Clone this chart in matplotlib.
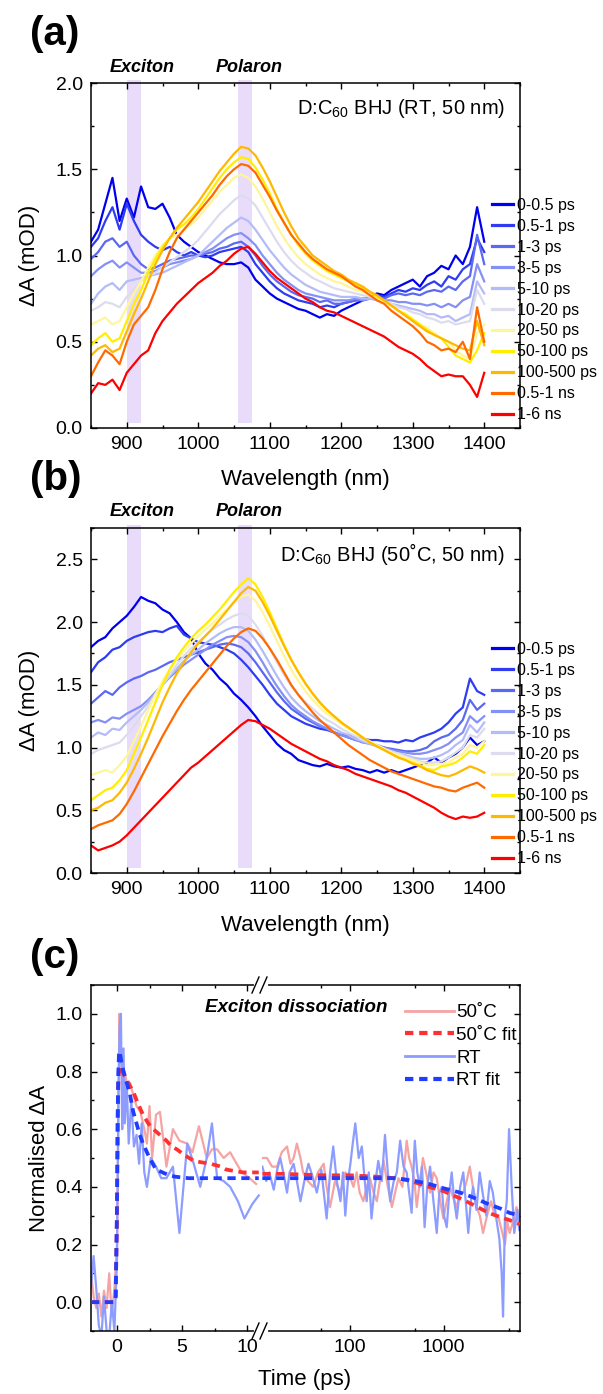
import matplotlib
matplotlib.use('Agg')
import matplotlib.pyplot as plt
import numpy as np
from matplotlib.ticker import MultipleLocator, FixedLocator, FixedFormatter, NullFormatter
from matplotlib.lines import Line2D

plt.rcParams['font.family'] = ['Liberation Sans', 'DejaVu Sans']
plt.rcParams['mathtext.fontset'] = 'custom'
plt.rcParams['mathtext.rm'] = 'Liberation Sans'
plt.rcParams['mathtext.it'] = 'Liberation Sans:italic'
plt.rcParams['mathtext.bf'] = 'Liberation Sans:bold'

# ---------------- data ----------------
wavelength = list(range(850, 1401, 10))

labels = ['0-0.5 ps', '0.5-1 ps', '1-3 ps', '3-5 ps', '5-10 ps', '10-20 ps',
          '20-50 ps', '50-100 ps', '100-500 ps', '0.5-1 ns', '1-6 ns']
colors = ['#0000F0', '#2E3CF2', '#5A68F2', '#8490F5', '#B4BCF8', '#DCDCEE',
          '#FFF59A', '#FFEE00', '#FFB800', '#FF6A00', '#FF0000']

rt_0 = [1.08,1.15,1.3,1.45,1.2,1.33,1.22,1.4,1.28,1.27,1.3,1.22,1.12,1.08,1.05,1.02,1.0,0.98,0.96,0.95,0.95,0.96,0.93,0.86,0.82,0.78,0.75,0.73,0.71,0.69,0.68,0.66,0.64,0.66,0.65,0.68,0.7,0.72,0.74,0.76,0.78,0.77,0.8,0.82,0.84,0.86,0.82,0.88,0.9,0.94,0.92,1.0,0.95,1.05,1.28,1.08]
rt_1 = [1.05,1.1,1.2,1.28,1.15,1.3,1.2,1.12,1.08,1.05,1.03,1.05,1.02,1.0,1.02,1.0,0.99,1.0,1.02,1.03,1.04,1.05,1.02,0.95,0.9,0.85,0.81,0.78,0.76,0.74,0.73,0.72,0.7,0.71,0.7,0.72,0.73,0.74,0.75,0.75,0.77,0.76,0.78,0.8,0.79,0.81,0.8,0.83,0.85,0.82,0.88,0.86,0.92,0.95,1.1,1.02]
rt_2 = [0.98,1.02,1.08,1.1,1.05,1.08,1.0,0.95,0.92,0.93,0.95,0.97,0.98,0.99,1.0,1.0,1.01,1.02,1.04,1.05,1.07,1.08,1.05,1.0,0.94,0.89,0.85,0.82,0.79,0.77,0.76,0.75,0.73,0.74,0.72,0.72,0.73,0.74,0.74,0.75,0.76,0.75,0.77,0.78,0.77,0.78,0.77,0.79,0.8,0.79,0.82,0.8,0.85,0.88,1.12,0.95]
rt_3 = [0.88,0.92,0.95,0.97,0.93,0.96,0.93,0.9,0.9,0.91,0.93,0.95,0.96,0.97,0.98,1.0,1.02,1.04,1.07,1.1,1.12,1.13,1.1,1.06,1.0,0.95,0.9,0.86,0.83,0.8,0.78,0.77,0.76,0.75,0.74,0.74,0.74,0.75,0.74,0.75,0.75,0.74,0.74,0.73,0.73,0.72,0.72,0.71,0.72,0.7,0.72,0.7,0.74,0.76,0.95,0.85]
rt_4 = [0.72,0.78,0.82,0.84,0.8,0.85,0.86,0.87,0.88,0.89,0.9,0.92,0.94,0.96,0.98,1.0,1.04,1.08,1.12,1.16,1.19,1.22,1.2,1.15,1.09,1.03,0.98,0.93,0.89,0.86,0.83,0.81,0.79,0.78,0.77,0.76,0.76,0.76,0.75,0.75,0.74,0.73,0.72,0.71,0.7,0.69,0.68,0.66,0.66,0.64,0.65,0.62,0.64,0.66,0.85,0.78]
rt_5 = [0.68,0.7,0.73,0.72,0.7,0.76,0.8,0.85,0.88,0.9,0.93,0.96,0.99,1.02,1.05,1.09,1.14,1.19,1.24,1.28,1.32,1.35,1.33,1.29,1.22,1.15,1.08,1.02,0.97,0.93,0.9,0.87,0.85,0.83,0.81,0.8,0.79,0.78,0.77,0.76,0.75,0.73,0.72,0.7,0.69,0.67,0.66,0.64,0.63,0.61,0.62,0.6,0.61,0.62,0.8,0.72]
rt_6 = [0.6,0.62,0.64,0.6,0.62,0.7,0.78,0.85,0.93,1.0,1.06,1.1,1.12,1.15,1.18,1.22,1.27,1.32,1.37,1.41,1.45,1.47,1.45,1.4,1.33,1.25,1.17,1.1,1.04,0.99,0.95,0.92,0.89,0.87,0.85,0.84,0.82,0.8,0.79,0.77,0.75,0.73,0.71,0.68,0.66,0.63,0.6,0.58,0.55,0.52,0.5,0.45,0.42,0.4,0.55,0.6]
rt_7 = [0.48,0.52,0.55,0.5,0.52,0.62,0.72,0.8,0.9,0.98,1.05,1.1,1.15,1.18,1.22,1.27,1.33,1.39,1.45,1.5,1.54,1.57,1.56,1.51,1.44,1.36,1.27,1.19,1.12,1.06,1.01,0.97,0.94,0.91,0.89,0.87,0.85,0.83,0.81,0.79,0.76,0.74,0.71,0.68,0.66,0.63,0.6,0.57,0.54,0.52,0.47,0.42,0.4,0.38,0.45,0.55]
rt_8 = [0.42,0.46,0.48,0.44,0.46,0.56,0.66,0.75,0.85,0.95,1.03,1.1,1.16,1.21,1.26,1.31,1.37,1.43,1.49,1.54,1.59,1.63,1.62,1.58,1.51,1.43,1.34,1.25,1.17,1.1,1.05,1.0,0.97,0.94,0.91,0.89,0.86,0.84,0.82,0.79,0.77,0.74,0.71,0.68,0.65,0.62,0.59,0.56,0.54,0.52,0.5,0.48,0.46,0.45,0.62,0.48]
rt_9 = [0.3,0.38,0.45,0.42,0.37,0.5,0.6,0.65,0.7,0.8,0.92,1.02,1.1,1.15,1.2,1.25,1.3,1.35,1.41,1.46,1.5,1.53,1.52,1.48,1.41,1.34,1.26,1.19,1.12,1.07,1.02,0.98,0.95,0.92,0.9,0.88,0.85,0.82,0.8,0.77,0.74,0.72,0.68,0.65,0.62,0.59,0.55,0.5,0.48,0.45,0.46,0.44,0.5,0.4,0.7,0.5]
rt_10 = [0.2,0.26,0.25,0.28,0.22,0.32,0.37,0.42,0.45,0.55,0.62,0.67,0.72,0.76,0.8,0.84,0.87,0.9,0.94,0.97,1.01,1.04,1.05,1.01,0.96,0.91,0.87,0.84,0.81,0.78,0.75,0.73,0.7,0.68,0.67,0.65,0.63,0.61,0.59,0.57,0.55,0.53,0.5,0.47,0.45,0.43,0.4,0.36,0.33,0.3,0.31,0.3,0.3,0.25,0.18,0.32]

ht_0 = [1.8,1.85,1.88,1.95,2.0,2.05,2.12,2.2,2.17,2.15,2.1,2.07,2.0,1.92,1.87,1.75,1.67,1.62,1.55,1.5,1.43,1.38,1.32,1.25,1.17,1.1,1.03,0.98,0.95,0.9,0.88,0.86,0.85,0.87,0.85,0.84,0.85,0.83,0.82,0.8,0.82,0.8,0.82,0.8,0.82,0.84,0.86,0.88,0.92,0.88,0.92,0.95,1.0,1.08,1.02,1.05]
ht_1 = [1.6,1.68,1.72,1.78,1.8,1.85,1.88,1.9,1.92,1.93,1.92,1.95,1.97,1.9,1.87,1.84,1.83,1.82,1.8,1.78,1.75,1.7,1.64,1.57,1.5,1.42,1.35,1.3,1.25,1.22,1.19,1.17,1.15,1.14,1.12,1.1,1.1,1.08,1.07,1.06,1.06,1.05,1.05,1.04,1.06,1.05,1.08,1.1,1.12,1.15,1.2,1.27,1.32,1.55,1.45,1.42]
ht_2 = [1.35,1.4,1.45,1.42,1.48,1.52,1.55,1.57,1.6,1.62,1.65,1.68,1.7,1.72,1.74,1.76,1.78,1.8,1.82,1.83,1.82,1.8,1.75,1.68,1.6,1.52,1.44,1.37,1.31,1.27,1.23,1.2,1.17,1.15,1.12,1.1,1.08,1.06,1.05,1.03,1.02,1.0,0.99,0.98,0.97,0.97,0.98,1.0,1.05,1.08,1.1,1.15,1.22,1.38,1.3,1.35]
ht_3 = [1.2,1.22,1.2,1.24,1.23,1.27,1.3,1.33,1.38,1.44,1.5,1.56,1.61,1.66,1.7,1.74,1.78,1.82,1.85,1.88,1.89,1.88,1.84,1.77,1.68,1.58,1.49,1.41,1.34,1.29,1.25,1.21,1.18,1.15,1.12,1.1,1.08,1.06,1.04,1.03,1.01,1.0,0.98,0.97,0.96,0.95,0.95,0.96,0.98,1.0,1.03,1.08,1.12,1.25,1.2,1.25]
ht_4 = [1.08,1.12,1.1,1.15,1.14,1.2,1.25,1.3,1.36,1.43,1.5,1.57,1.63,1.69,1.74,1.78,1.83,1.87,1.91,1.94,1.96,1.96,1.93,1.86,1.77,1.67,1.57,1.48,1.4,1.34,1.29,1.25,1.21,1.18,1.15,1.12,1.1,1.07,1.05,1.03,1.01,0.99,0.97,0.95,0.94,0.92,0.91,0.91,0.92,0.94,0.97,1.02,1.06,1.18,1.12,1.2]
ht_5 = [0.95,0.98,1.0,1.02,1.04,1.1,1.17,1.25,1.33,1.42,1.5,1.58,1.66,1.73,1.79,1.84,1.89,1.94,1.98,2.02,2.05,2.07,2.05,1.98,1.89,1.79,1.68,1.58,1.49,1.42,1.36,1.31,1.26,1.22,1.19,1.15,1.12,1.09,1.06,1.04,1.02,0.99,0.97,0.95,0.93,0.91,0.89,0.88,0.88,0.89,0.92,0.96,1.0,1.1,1.08,1.15]
ht_6 = [0.78,0.8,0.82,0.8,0.86,0.93,1.05,1.17,1.3,1.42,1.53,1.62,1.7,1.77,1.83,1.89,1.94,1.99,2.05,2.1,2.16,2.2,2.22,2.17,2.08,1.97,1.85,1.73,1.62,1.53,1.45,1.38,1.32,1.27,1.23,1.19,1.15,1.12,1.08,1.05,1.02,0.99,0.96,0.94,0.92,0.9,0.88,0.86,0.86,0.87,0.88,0.92,0.95,1.02,1.0,1.05]
ht_7 = [0.58,0.62,0.66,0.68,0.74,0.82,0.95,1.08,1.22,1.36,1.5,1.62,1.72,1.8,1.87,1.93,1.98,2.04,2.1,2.17,2.24,2.3,2.35,2.3,2.2,2.08,1.95,1.82,1.7,1.6,1.51,1.43,1.36,1.3,1.25,1.2,1.16,1.12,1.08,1.04,1.01,0.98,0.95,0.92,0.9,0.88,0.86,0.83,0.82,0.85,0.86,0.88,0.92,0.97,0.95,1.02]
ht_8 = [0.5,0.52,0.56,0.58,0.64,0.72,0.83,0.95,1.08,1.22,1.36,1.48,1.59,1.68,1.76,1.83,1.89,1.95,2.02,2.09,2.16,2.23,2.28,2.25,2.16,2.05,1.93,1.81,1.7,1.6,1.51,1.43,1.36,1.3,1.25,1.2,1.16,1.12,1.08,1.04,1.01,0.98,0.95,0.92,0.9,0.87,0.85,0.82,0.8,0.78,0.77,0.79,0.82,0.85,0.83,0.8]
ht_9 = [0.35,0.38,0.4,0.42,0.47,0.55,0.65,0.76,0.87,0.98,1.09,1.19,1.29,1.38,1.46,1.53,1.6,1.67,1.74,1.81,1.87,1.92,1.95,1.93,1.87,1.79,1.7,1.6,1.5,1.42,1.35,1.28,1.22,1.17,1.12,1.07,1.02,0.98,0.94,0.9,0.87,0.84,0.81,0.79,0.77,0.75,0.73,0.71,0.69,0.68,0.66,0.65,0.68,0.7,0.72,0.68]
ht_10 = [0.22,0.18,0.2,0.22,0.25,0.3,0.36,0.42,0.48,0.54,0.6,0.66,0.72,0.78,0.84,0.88,0.93,0.98,1.03,1.08,1.13,1.18,1.22,1.21,1.18,1.15,1.11,1.07,1.03,1.0,0.97,0.94,0.91,0.89,0.86,0.84,0.82,0.79,0.77,0.75,0.73,0.71,0.69,0.66,0.64,0.61,0.58,0.55,0.52,0.48,0.45,0.43,0.45,0.44,0.45,0.48]

rt_spectra = [rt_0, rt_1, rt_2, rt_3, rt_4, rt_5, rt_6, rt_7, rt_8, rt_9, rt_10]
ht_spectra = [ht_0, ht_1, ht_2, ht_3, ht_4, ht_5, ht_6, ht_7, ht_8, ht_9, ht_10]

# panel (c) kinetics
t_50 = [-2.0,-1.8,-1.6,-1.4,-1.2,-1.0,-0.8,-0.6,-0.4,-0.2,0.0,0.1,0.18,0.3,0.45,0.6,0.8,1.0,1.25,1.5,1.8,2.1,2.3,2.5,2.7,3.0,3.3,3.6,3.8,4.3,4.8,5.4,5.8,6.3,6.9,7.3,7.7,8.2,8.7,9.2,9.6,10.2,10.7,
        11.8,13.2,15,16.9,19,21.6,23.5,25.4,27.5,30,32,36,41,46,53,57,62,70,80,90,102,110,119,128,140,152,165,180,195,210,230,255,282,305,331,365,405,430,457,490,518,560,603,650,718,780,846,920,995,1080,1170,1270,1380,1500,1620,1760,1900,2050,2240,2430,2630,2900,3200,3500,3800,4150,4500,4750,5050,5500,5960,6400]
a_50 = [0.1,0.02,-0.02,0.03,-0.05,0.04,-0.02,0.1,-0.05,0.05,0.2,0.6,1.0,0.85,0.78,0.8,0.74,0.76,0.72,0.68,0.66,0.6,0.55,0.68,0.5,0.65,0.66,0.55,0.47,0.6,0.56,0.55,0.52,0.61,0.5,0.53,0.53,0.5,0.52,0.48,0.45,0.43,0.41,
        0.5,0.5,0.47,0.47,0.52,0.54,0.48,0.5,0.55,0.5,0.45,0.42,0.4,0.45,0.48,0.4,0.33,0.42,0.38,0.45,0.43,0.4,0.45,0.38,0.35,0.4,0.43,0.38,0.35,0.42,0.49,0.4,0.33,0.38,0.43,0.4,0.56,0.5,0.47,0.42,0.33,0.42,0.5,0.45,0.38,0.45,0.43,0.35,0.29,0.35,0.4,0.36,0.33,0.38,0.38,0.42,0.47,0.4,0.33,0.3,0.24,0.3,0.35,0.3,0.3,0.25,0.2,0.28,0.24,0.28,0.33,0.3]

t_rt = [-2.0,-1.8,-1.6,-1.4,-1.2,-1.0,-0.8,-0.6,-0.4,-0.2,0.0,0.1,0.2,0.3,0.4,0.5,0.6,0.75,0.9,1.1,1.3,1.5,1.7,1.9,2.1,2.3,2.6,3.0,3.4,3.8,4.3,4.8,5.4,5.9,6.4,6.9,7.3,7.7,8.2,8.7,9.3,9.8,10.4,10.9,
        11.8,13,14,15.6,17,18.3,20,21.6,23,25.4,27.5,30,33,36.5,40,44.8,50,57,62,67,73,80,85,90,96,102,108,115,125,135,145,152,160,171,185,202,220,238,255,270,295,318,345,375,405,430,457,494,525,557,590,628,670,718,780,846,900,956,1010,1080,1150,1220,1300,1380,1500,1620,1720,1830,1950,2060,2240,2420,2600,2850,3100,3340,3600,3920,4150,4290,4500,4700,4970,5300,5650,6100,6400]
a_rt = [0.05,0.16,0.05,-0.08,-0.12,0.02,-0.1,-0.12,0.0,-0.1,0.15,0.7,0.95,1.0,0.6,0.88,0.62,0.76,0.55,0.7,0.54,0.58,0.48,0.62,0.45,0.4,0.5,0.47,0.43,0.43,0.47,0.24,0.55,0.48,0.4,0.5,0.62,0.43,0.42,0.4,0.35,0.29,0.34,0.37,
        0.47,0.42,0.45,0.39,0.46,0.5,0.44,0.38,0.45,0.48,0.42,0.35,0.42,0.48,0.44,0.38,0.46,0.29,0.45,0.54,0.42,0.35,0.45,0.3,0.42,0.48,0.55,0.62,0.5,0.54,0.42,0.35,0.45,0.29,0.4,0.49,0.42,0.58,0.45,0.35,0.42,0.45,0.56,0.47,0.45,0.38,0.31,0.56,0.45,0.4,0.47,0.26,0.4,0.47,0.35,0.24,0.38,0.4,0.3,0.26,0.38,0.45,0.35,0.29,0.4,0.45,0.35,0.24,0.35,0.4,0.32,0.45,0.38,0.3,0.42,0.38,0.3,0.22,0.1,-0.05,0.3,0.35,0.6,0.4,0.24,0.32,0.25]

t_fit50 = [-2.0,-0.2,-0.1,0.0,0.05,0.1,0.15,0.2,0.4,0.75,1.0,1.25,1.6,2.0,2.4,2.8,3.3,3.8,4.2,4.6,5.2,5.9,6.5,7.2,8.0,8.4,9.0,9.7,10.3,10.9,
           11.8,20,50,100,200,300,400,500,700,1000,1500,2000,3000,4000,5000,6500]
a_fit50 = [0.0,0.0,0.02,0.3,0.6,0.75,0.81,0.82,0.8,0.77,0.75,0.73,0.69,0.65,0.62,0.6,0.58,0.56,0.54,0.53,0.51,0.49,0.485,0.48,0.47,0.46,0.455,0.45,0.45,0.45,
           0.445,0.445,0.44,0.44,0.435,0.43,0.425,0.415,0.4,0.385,0.36,0.34,0.31,0.295,0.285,0.27]
t_fitrt = [-2.0,-0.2,-0.1,0.0,0.05,0.1,0.15,0.2,0.35,0.5,0.75,1.0,1.25,1.5,1.75,2.0,2.5,3.0,3.5,4.0,4.5,5.5,7.0,9.0,10.9,
           11.8,50,100,300,500,700,1000,1500,2000,3000,4000,5000,6500]
a_fitrt = [0.0,0.0,0.02,0.35,0.65,0.8,0.86,0.87,0.83,0.8,0.76,0.72,0.66,0.62,0.58,0.55,0.5,0.46,0.45,0.44,0.435,0.43,0.43,0.43,0.43,
           0.43,0.43,0.43,0.43,0.42,0.41,0.395,0.38,0.365,0.34,0.325,0.31,0.30]

# ---------------- layout helpers ----------------
W, H = 603, 1394
fig = plt.figure(figsize=(W / 100, H / 100), dpi=100)


def box(l, t, r, b):
    return [l / W, 1 - b / H, (r - l) / W, (b - t) / H]


def fx(px):
    return px / W


def fy(py):
    return 1 - py / H


TICK_FS = 14
LABEL_FS = 16
BAND = '#E9DCFB'


def style(ax):
    for s in ax.spines.values():
        s.set_linewidth(1.1)
    ax.tick_params(which='both', direction='in', top=True, right=True,
                   labelsize=TICK_FS, width=1.0)
    ax.tick_params(which='major', length=4.0, pad=6)
    ax.tick_params(which='minor', length=2.3)


def spectra_panel(top, bottom, data, ylim, ymaj, note, legend_top, title_y):
    ax = fig.add_axes(box(91, top, 520, bottom))
    ax.axvspan(900, 920, ymin=0.015, ymax=1.01, color=BAND, lw=0, zorder=0, clip_on=False)
    ax.axvspan(1055, 1075, ymin=0.015, ymax=1.01, color=BAND, lw=0, zorder=0, clip_on=False)
    handles = []
    for y, c, lab in zip(data, colors, labels):
        h, = ax.plot(wavelength, y, color=c, lw=1.6, label=lab, zorder=2)
        handles.append(h)
    ax.set_xlim(850, 1450)
    ax.set_ylim(*ylim)
    ax.xaxis.set_major_locator(FixedLocator([900, 1000, 1100, 1200, 1300, 1400]))
    ax.xaxis.set_minor_locator(MultipleLocator(50))
    ax.yaxis.set_major_locator(MultipleLocator(ymaj))
    ax.yaxis.set_minor_locator(MultipleLocator(ymaj / 2))
    ax.yaxis.set_major_formatter(matplotlib.ticker.FormatStrFormatter('%.1f'))
    style(ax)
    ax.set_ylabel('ΔA (mOD)', fontsize=LABEL_FS)
    ax.yaxis.set_label_coords(-0.118, 0.5)
    fig.text(fx(305), fy(title_y), 'Wavelength (nm)', fontsize=LABEL_FS, ha='center', va='center')
    fig.text(fx(505), fy(top + 26), note, fontsize=14.5, ha='right', va='center')
    fig.text(fx(142), fy(top - 16), 'Exciton', fontsize=13, weight='bold', style='italic',
             ha='center', va='center')
    fig.text(fx(249), fy(top - 16), 'Polaron', fontsize=13, weight='bold', style='italic',
             ha='center', va='center')
    leg = fig.legend(handles, labels, loc='upper left', bbox_to_anchor=(fx(492), fy(legend_top)),
                     bbox_transform=fig.transFigure, frameon=False, borderpad=0, borderaxespad=0,
                     handlelength=1.3, handletextpad=0.25, labelspacing=0.37, fontsize=11.5)
    for lh in leg.get_lines():
        lh.set_linewidth(2.3)
    return ax


ax_a = spectra_panel(83, 428, rt_spectra, (0, 2.0), 0.5, 'D:C$_{60}$ BHJ (RT, 50 nm)', 198, 480)
ax_b = spectra_panel(528, 873, ht_spectra, (0, 2.75), 0.5, 'D:C$_{60}$ BHJ (50˚C, 50 nm)', 642, 925)

for txt, yb in [('(a)', 53), ('(b)', 498), ('(c)', 976)]:
    fig.text(fx(30), fy(yb), txt, fontsize=29, weight='bold', ha='left', va='bottom')

# ---------------- panel (c) ----------------
BREAK = 262
ax_l = fig.add_axes(box(91, 985, BREAK, 1331))
ax_r = fig.add_axes(box(BREAK, 985, 520, 1331))
LIN_MAX, LOG_MIN, LOG_MAX = 11.15, 11.7, 6500

c50, c50f, crt, crtf = '#F5A3A3', '#FF3030', '#8C9CFF', '#1F3CFF'

t50 = np.array(t_50); v50 = np.array(a_50)
trt = np.array(t_rt); vrt = np.array(a_rt)
tf50 = np.array(t_fit50); vf50 = np.array(a_fit50)
tfrt = np.array(t_fitrt); vfrt = np.array(a_fitrt)

for ax, m50, mrt, mf50, mfrt in [
        (ax_l, t50 <= LIN_MAX, trt <= LIN_MAX, tf50 <= LIN_MAX, tfrt <= LIN_MAX),
        (ax_r, t50 >= LOG_MIN, trt >= LOG_MIN, tf50 >= LOG_MIN, tfrt >= LOG_MIN)]:
    ax.plot(t50[m50], v50[m50], color=c50, lw=1.6, zorder=2)
    ax.plot(trt[mrt], vrt[mrt], color=crt, lw=1.6, zorder=2)
    ax.plot(tf50[mf50], vf50[mf50], color=c50f, lw=2.7, dashes=(2.2, 1.5), zorder=3)
    ax.plot(tfrt[mfrt], vfrt[mfrt], color=crtf, lw=2.7, dashes=(2.2, 1.5), zorder=3)

ax_l.set_xlim(-2, LIN_MAX)
ax_r.set_xscale('log')
ax_r.set_xlim(LOG_MIN, LOG_MAX)
for ax in (ax_l, ax_r):
    ax.set_ylim(-0.1, 1.1)
    ax.yaxis.set_major_locator(MultipleLocator(0.2))
    ax.yaxis.set_minor_locator(MultipleLocator(0.1))
    style(ax)
ax_l.yaxis.set_major_formatter(matplotlib.ticker.FormatStrFormatter('%.1f'))
ax_l.xaxis.set_major_locator(FixedLocator([0, 5, 10]))
ax_l.xaxis.set_minor_locator(FixedLocator([2.5, 7.5]))
ax_l.spines['right'].set_visible(False)
ax_l.tick_params(which='both', right=False)
ax_r.spines['left'].set_visible(False)
ax_r.tick_params(which='both', left=False, labelleft=False)
ax_r.xaxis.set_major_locator(FixedLocator([100, 1000]))
ax_r.xaxis.set_major_formatter(FixedFormatter(['100', '1000']))
ax_r.xaxis.set_minor_locator(FixedLocator([50, 500, 5000]))
ax_r.xaxis.set_minor_formatter(NullFormatter())

ax_l.set_ylabel('Normalised ΔA', fontsize=LABEL_FS)
ax_l.yaxis.set_label_coords(-0.24, 0.5)
fig.text(fx(305), fy(1380), 'Time (ps)', fontsize=LABEL_FS, ha='center', va='center')
fig.text(fx(296), fy(1008), 'Exciton dissociation', fontsize=13.5, weight='bold', style='italic',
         ha='center', va='center')

# break marks
for yb in (985, 1331):
    fig.add_artist(Line2D([fx(256), fx(266)], [fy(yb), fy(yb)], color='white', lw=3,
                          transform=fig.transFigure, zorder=10))
    for x0 in (252, 260):
        fig.add_artist(Line2D([fx(x0), fx(x0 + 7)], [fy(yb + 8), fy(yb - 8)], color='black',
                              lw=1.0, transform=fig.transFigure, zorder=11))

leg_handles = [Line2D([], [], color=c50, lw=2.0), Line2D([], [], color=c50f, lw=3.0, dashes=(2.0, 1.4)),
               Line2D([], [], color=crt, lw=2.0), Line2D([], [], color=crtf, lw=3.0, dashes=(2.0, 1.4))]
fig.legend(leg_handles, ['50˚C', '50˚C fit', 'RT', 'RT fit'], loc='upper left',
           bbox_to_anchor=(fx(405), fy(1004)), bbox_transform=fig.transFigure, frameon=False,
           borderpad=0, borderaxespad=0, handlelength=2.6, handletextpad=0.12, labelspacing=0.3,
           fontsize=13.5)

fig.savefig('out.png', dpi=100)
